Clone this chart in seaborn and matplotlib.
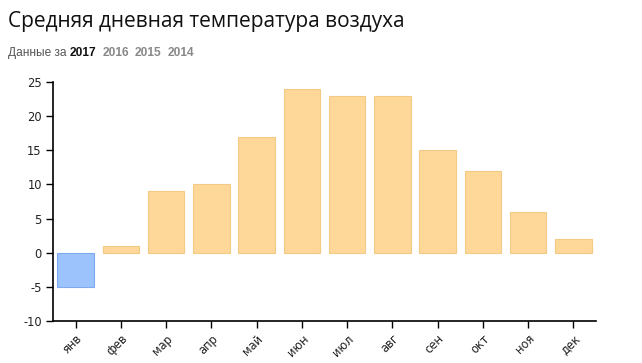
import matplotlib
matplotlib.use("Agg")
import matplotlib.pyplot as plt
import seaborn as sns
import pandas as pd

months = ["янв", "фев", "мар", "апр", "май", "июн", "июл", "авг", "сен", "окт", "ноя", "дек"]
temps = [-5, 1, 9, 10, 17, 24, 23, 23, 15, 12, 6, 2]
years = ["2017", "2016", "2015", "2014"]

sns.set_theme(style="white")
plt.rcParams['font.family'] = ['DejaVu Sans']
plt.rcParams['axes.unicode_minus'] = False

df = pd.DataFrame({"month": months, "temp": temps})
df["sign"] = ["neg" if t < 0 else "pos" for t in temps]

fig = plt.figure(figsize=(6.42, 3.63), dpi=100)
ax = fig.add_axes([53/642, 1-321/363, (596-53)/642, (321-82)/363])

sns.barplot(data=df, x="month", y="temp", hue="sign",
            palette={"neg": "#9cc3fb", "pos": "#fed899"},
            dodge=False, width=0.81, legend=False, ax=ax, saturation=1)
edge = {"neg": "#7ea9ee", "pos": "#f4c984"}
for cont, key in zip(ax.containers, ["neg", "pos"]):
    for p in cont:
        p.set_edgecolor(edge[key])
        p.set_linewidth(0.8)

ax.set_ylim(-10, 25)
ax.set_yticks(range(-10, 26, 5))
ax.set_xlim(-0.5, 11.5)
ax.set_xlabel("")
ax.set_ylabel("")
for sp in ["top", "right"]:
    ax.spines[sp].set_visible(False)
for sp in ["left", "bottom"]:
    ax.spines[sp].set_color("black")
    ax.spines[sp].set_linewidth(1.2)
ax.tick_params(axis="both", which="both", direction="out", length=5, width=1,
               color="black", labelsize=8.3, labelcolor="#222222", left=True, bottom=True, pad=3)
plt.setp(ax.get_xticklabels(), rotation=45, ha="right", rotation_mode="anchor")

fig.text(8/642, 1-21/363, "Средняя дневная температура воздуха", fontsize=15.0,
         family=["Open Sans", "DejaVu Sans"], color="#111111", va="center", ha="left")

x = 8/642
y = 1-53/363
t = fig.text(x, y, "Данные за ", fontsize=8.6, family=["Liberation Sans"], color="#555555",
             va="center", ha="left")
fig.canvas.draw()
r = fig.canvas.get_renderer()
for i, yr in enumerate(years):
    bb = t.get_window_extent(renderer=r)
    x = bb.x1 / fig.bbox.width + (0.0 if i == 0 else 6/642)
    t = fig.text(x, y, yr, fontsize=8.6, family=["Liberation Sans"], weight="bold",
                 color="#111111" if i == 0 else "#888888", va="center", ha="left")
    fig.canvas.draw()

fig.savefig("out.png", dpi=100)
